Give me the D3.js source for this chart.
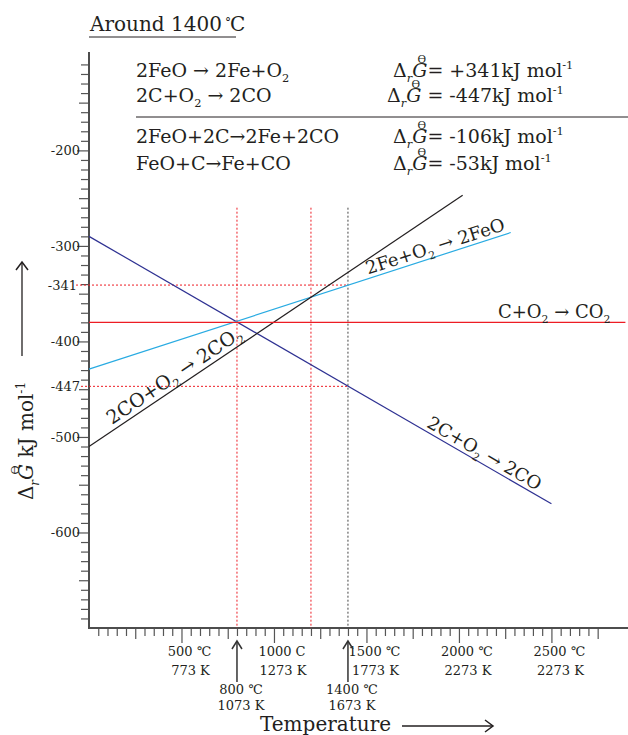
<!DOCTYPE html>
<html>
<head>
<meta charset="utf-8">
<script src="https://cdn.jsdelivr.net/npm/d3@7"></script>
<style>
  body { margin: 0; background: #fff; }
  svg { display: block; font-family: "DejaVu Serif", serif; }
</style>
</head>
<body>
<svg id="chart" width="628" height="735"></svg>
<script>
// data (temperature in °C, ΔG in kJ/mol)
const majorTemps = [500, 1000, 1500, 2000, 2500];
const celsiusLabels = ["500 ℃", "1000 C", "1500 ℃", "2000 ℃", "2500 ℃"];
const kelvinLabels = ["773 K", "1273 K", "1773 K", "2273 K", "2273 K"];
const markedTemps = [800, 1400];
const markedCelsius = ["800 ℃", "1400 ℃"];
const markedKelvin = ["1073 K", "1673 K"];
const yLabelValues = [-200, -300, -341, -400, -447, -500, -600];

// each reaction line: [start °C, ΔG], [end °C, ΔG]
const carbonToCO = [[0, -290], [2500, -570]];
const ironToFeO = [[0, -429], [2280, -286]];
const coToCO2 = [[0, -510], [2020, -247]];
const carbonToCO2 = [[0, -380], [2900, -380]];

const guideTemps = [800, 1200, 1400];
const guideValues = [-341, -447];

const leftEquations = [
  [["2FeO → 2Fe+O"], ["2", "sub"]],
  [["2C+O"], ["2", "sub"], [" → 2CO"]],
  [["2FeO+2C→2Fe+2CO"]],
  [["FeO+C→Fe+CO"]]
];
const deltaG = ["+341", "-447", "-106", "-53"];

const svg = d3.select("#chart");

const x = d3.scaleLinear().domain([0, 2914]).range([89, 628]);
const y = d3.scaleLinear().domain([-700, -97]).range([628, 52]);

// writes text with sub/superscripts as tspans; "over" puts a small mark above the previous char
function rich(sel, parts, size) {
  let off = 0, idx = 0;
  const overs = [];
  parts.forEach(p => {
    const str = p[0], kind = p[1] || "", italic = p[2];
    if (kind === "over") { overs.push({ str, idx: idx - 1 }); return; }
    let target = 0;
    if (kind === "sub") target = size * 0.28;
    if (kind === "sup") target = -size * 0.42;
    const t = sel.append("tspan")
      .attr("dy", target - off)
      .text(str);
    if (kind) t.attr("font-size", size * 0.6);
    if (italic) t.attr("font-style", "italic");
    off = target;
    idx += str.length;
  });
  if (off !== 0) sel.append("tspan").attr("dy", -off).text("");
  const node = sel.node();
  overs.forEach(o => {
    const s = node.getStartPositionOfChar(o.idx), e = node.getEndPositionOfChar(o.idx);
    d3.select(node.parentNode).append("text")
      .attr("x", (s.x + e.x) / 2 + 2).attr("y", s.y - size * 0.72)
      .attr("text-anchor", "middle").attr("font-size", size * 0.55)
      .attr("fill", "#231f20").text(o.str);
  });
}

// title
const title = svg.append("text")
  .attr("x", 90).attr("y", 31)
  .attr("font-size", 20)
  .attr("fill", "#231f20")
  .text("Around 1400");
title.append("tspan").attr("dx", 3).attr("dy", -4).attr("font-size", 12).text("°");
title.append("tspan").attr("dx", -1).attr("dy", 4).text("C");
svg.append("line")
  .attr("x1", 89).attr("x2", 236).attr("y1", 37).attr("y2", 37)
  .attr("stroke", "#231f20");

// equations table
const rowY = [77, 102, 143, 170];
leftEquations.forEach((parts, i) => {
  const t = svg.append("text").attr("x", 136).attr("y", rowY[i])
    .attr("font-size", 19).attr("fill", "#231f20");
  rich(t, parts, 19);
});
deltaG.forEach((val, i) => {
  const t = svg.append("text").attr("x", i === 1 ? 387 : 393).attr("y", rowY[i])
    .attr("font-size", 19).attr("fill", "#231f20");
  rich(t, [["Δ"], ["r", "sub", true], ["G", "", true], ["ϴ", "over"],
    [(i === 1 ? " = " : "= ") + val + "kJ mol"], ["-1", "sup"]], 19);
});
svg.append("line")
  .attr("x1", 136).attr("x2", 628).attr("y1", 117).attr("y2", 117)
  .attr("stroke", "#231f20");

// y axis ticks (minor, mid, major)
function yTicks(vals, size) {
  const g = svg.append("g").attr("transform", `translate(${x(0)},0)`)
    .call(d3.axisLeft(y).tickValues(vals).tickSizeInner(size).tickSizeOuter(0).tickFormat(""));
  g.select(".domain").remove();
  g.selectAll(".tick line").attr("stroke", "#555").attr("stroke-width", 1.2);
}
const yAll = d3.range(-690, -105, 10);
yTicks(yAll.filter(v => v % 50 !== 0), 8);
yTicks(yAll.filter(v => v % 50 === 0 && v % 100 !== 0), 10);
yTicks(yAll.filter(v => v % 100 === 0), 12);

const yLab = svg.append("g").attr("transform", `translate(${x(0) - 9},0)`)
  .call(d3.axisLeft(y).tickValues(yLabelValues).tickSize(0).tickPadding(0)
    .tickFormat(d => String(d)));
yLab.select(".domain").remove();
yLab.selectAll("text")
  .attr("font-family", "DejaVu Serif, serif")
  .attr("font-size", 13).attr("fill", "#231f20")
  .attr("dx", d => d === -341 ? -3 : 0);

// x axis ticks
function xTicks(vals, size) {
  const g = svg.append("g").attr("transform", `translate(0,${y(-700)})`)
    .call(d3.axisBottom(x).tickValues(vals).tickSizeInner(size).tickSizeOuter(0).tickFormat(""));
  g.select(".domain").remove();
  g.selectAll(".tick line").attr("stroke", "#555").attr("stroke-width", 1.2);
}
const xAll = d3.range(50, 2800, 50);
xTicks(xAll.filter(v => v % 250 !== 0), 8);
xTicks(xAll.filter(v => v % 250 === 0 && v % 500 !== 0), 11);
xTicks(xAll.filter(v => v % 500 === 0), 15);

// axis lines
svg.append("line")
  .attr("x1", x(0)).attr("x2", x(0)).attr("y1", y(-97)).attr("y2", y(-700))
  .attr("stroke", "#4d4d4d").attr("stroke-width", 2);
svg.append("line")
  .attr("x1", x(0) - 1).attr("x2", x(2914)).attr("y1", y(-700)).attr("y2", y(-700))
  .attr("stroke", "#4d4d4d").attr("stroke-width", 2);

// x labels
svg.selectAll(".clab").data(majorTemps).enter().append("text")
  .attr("x", d => x(d) + 8).attr("y", 656)
  .attr("text-anchor", "middle").attr("font-size", 13).attr("fill", "#231f20")
  .text((d, i) => celsiusLabels[i]);
svg.selectAll(".klab").data(majorTemps).enter().append("text")
  .attr("x", d => x(d) + 9).attr("y", 675)
  .attr("text-anchor", "middle").attr("font-size", 13).attr("fill", "#231f20")
  .text((d, i) => kelvinLabels[i]);
svg.selectAll(".mc").data(markedTemps).enter().append("text")
  .attr("x", d => x(d) + 4).attr("y", 694)
  .attr("text-anchor", "middle").attr("font-size", 13).attr("fill", "#231f20")
  .text((d, i) => markedCelsius[i]);
svg.selectAll(".mk").data(markedTemps).enter().append("text")
  .attr("x", d => x(d) + 4).attr("y", 710)
  .attr("text-anchor", "middle").attr("font-size", 13).attr("fill", "#231f20")
  .text((d, i) => markedKelvin[i]);
markedTemps.forEach(t => {
  const cx = x(t);
  svg.append("line").attr("x1", cx).attr("x2", cx).attr("y1", 682).attr("y2", 642)
    .attr("stroke", "#333").attr("stroke-width", 1.5);
  svg.append("path").attr("d", `M${cx - 5},649 L${cx},641 L${cx + 5},649`)
    .attr("fill", "none").attr("stroke", "#333").attr("stroke-width", 1.5);
});

// guide lines
guideTemps.forEach(t => {
  svg.append("line")
    .attr("x1", x(t)).attr("x2", x(t)).attr("y1", y(-260)).attr("y2", y(-700))
    .attr("stroke", t === 1400 ? "#444" : "#ed1c24")
    .attr("stroke-width", 1).attr("stroke-dasharray", "2,2");
});
guideValues.forEach(v => {
  svg.append("line")
    .attr("x1", v === -341 ? 76 : 81).attr("x2", x(1400)).attr("y1", y(v)).attr("y2", y(v))
    .attr("stroke", "#ed1c24").attr("stroke-width", 1).attr("stroke-dasharray", "2,2");
});

// reaction lines
const line = d3.line().x(d => x(d[0])).y(d => y(d[1]));
const series = [
  { pts: carbonToCO, color: "#2e3192" },
  { pts: ironToFeO, color: "#29abe2" },
  { pts: coToCO2, color: "#231f20" },
  { pts: carbonToCO2, color: "#ed1c24" }
];
series.forEach(s => {
  svg.append("path").attr("d", line(s.pts))
    .attr("fill", "none").attr("stroke", s.color).attr("stroke-width", 1.2);
});

// line labels, rotated along each line
function lineLabel(pts, t, parts, dy, size) {
  const [p0, p1] = pts;
  const v = p0[1] + (p1[1] - p0[1]) * (t - p0[0]) / (p1[0] - p0[0]);
  const ang = Math.atan2(y(p1[1]) - y(p0[1]), x(p1[0]) - x(p0[0])) * 180 / Math.PI;
  const txt = svg.append("text")
    .attr("transform", `translate(${x(t)},${y(v)}) rotate(${ang}) translate(0,${dy})`)
    .attr("font-size", size).attr("fill", "#231f20");
  rich(txt, parts, size);
}
lineLabel(ironToFeO, 1515, [["2Fe+O"], ["2", "sub"], [" → 2FeO"]], -4, 18);
lineLabel(carbonToCO, 1810, [["2C+O"], ["2", "sub"], [" →  2CO"]], -4, 18);
lineLabel(coToCO2, 140, [["2CO+O"], ["2", "sub"], [" → 2CO"], ["2", "sub"]], -5, 19);
lineLabel(carbonToCO2, 2211, [["C+O"], ["2", "sub"], [" → CO"], ["2", "sub"]], -4, 18);

// axis titles
const ytg = svg.append("g").attr("transform", "translate(33,441) rotate(-90)");
const yt = ytg.append("text")
  .attr("text-anchor", "middle").attr("font-size", 20).attr("fill", "#231f20");
rich(yt, [["Δ"], ["r", "sub", true], ["G", "", true], ["ϴ", "over"], [" kJ mol"], ["-1", "sup"]], 20);
svg.append("line").attr("x1", 22).attr("x2", 22).attr("y1", 356).attr("y2", 262)
  .attr("stroke", "#231f20").attr("stroke-width", 1.3);
svg.append("path").attr("d", "M16,270 L22,262 L28,270")
  .attr("fill", "none").attr("stroke", "#231f20").attr("stroke-width", 1.5);

svg.append("text").attr("x", 260).attr("y", 731)
  .attr("font-size", 20).attr("fill", "#231f20").text("Temperature");
svg.append("line").attr("x1", 402).attr("x2", 492).attr("y1", 726).attr("y2", 726)
  .attr("stroke", "#231f20").attr("stroke-width", 1.3);
svg.append("path").attr("d", "M485,720 L493,726 L485,732")
  .attr("fill", "none").attr("stroke", "#231f20").attr("stroke-width", 1.5);
</script>
</body>
</html>
